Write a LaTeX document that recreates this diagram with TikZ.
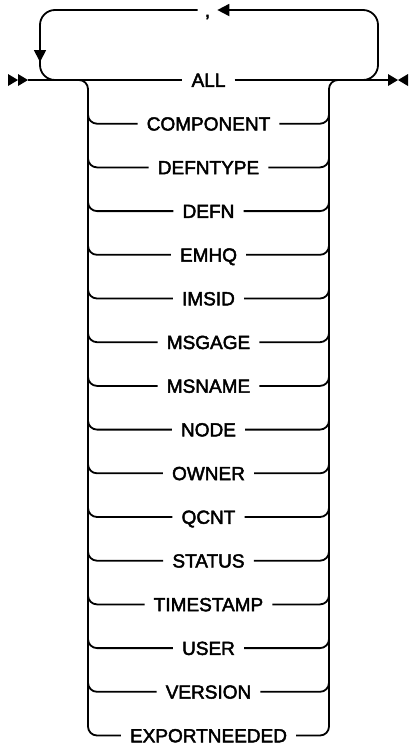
\documentclass[tikz,border=0pt]{standalone}
\usepackage{fontspec}
\setmainfont{Liberation Sans}[FakeBold=2.4]
\usetikzlibrary{arrows.meta}
\definecolor{rrink}{HTML}{000000}
\tikzset{
  rail/.style={draw=rrink,line width=1.8pt},
  railtip/.style={-{Triangle[length=12pt,width=12pt]}},
  keyword/.style={font=\fontsize{19}{21}\selectfont,text=rrink,inner xsep=9pt,inner ysep=0pt,text height=13.6pt,text depth=0pt},
  sep/.style={keyword,inner xsep=7pt},
  endmark/.style={fill=rrink},
}

\begin{document}
\begin{tikzpicture}[x=1pt,y=-1pt]
  \useasboundingbox (0,0) rectangle (409,745);

  % ---------------- main line ----------------
  \coordinate (start) at (28,80);
  \coordinate (finish) at (388,80);
  \fill[endmark] (8,74) -- (18,80) -- (8,86) -- cycle;
  \fill[endmark] (18,74) -- (28,80) -- (18,86) -- cycle;
  \fill[endmark] (388,74) -- (398,80) -- (388,86) -- cycle;
  \fill[endmark] (408,74) -- (398,80) -- (408,86) -- cycle;

  % ---------------- keyword choices ----------------
  \foreach \kw [count=\i from 0] in {ALL,COMPONENT,DEFNTYPE,DEFN,EMHQ,IMSID,MSGAGE,MSNAME,NODE,OWNER,QCNT,STATUS,TIMESTAMP,USER,VERSION,EXPORTNEEDED}
    \node[keyword] (kw\i) at (208.5,80+\i*43.7) {\kw};

  \draw[rail] (start) -- (kw0.west);
  \draw[rail] (kw0.east) -- (finish);

  % left and right bars
  \draw[rail,rounded corners=9] (78,80) -| (88,735.5) -- (kw15.west);
  \draw[rail,rounded corners=9] (339,80) -| (329,735.5) -- (kw15.east);
  \foreach \i in {1,...,14}{
    \draw[rail,rounded corners=9] (88,80+\i*43.7-14) |- (kw\i.west);
    \draw[rail,rounded corners=9] (kw\i.east) -| (329,80+\i*43.7-14);
  }

  % ---------------- repeat loop ----------------
  \node[sep] (comma) at (207.5,10) {,};
  \draw[rail,railtip,rounded corners=15] (345,80) -| (378,10) -- (comma.east);
  \draw[rail,railtip,rounded corners=15] (comma.west) -| (40,62);
  \draw[rail,rounded corners=15] (40,55) |- (62,80);
\end{tikzpicture}
\end{document}
